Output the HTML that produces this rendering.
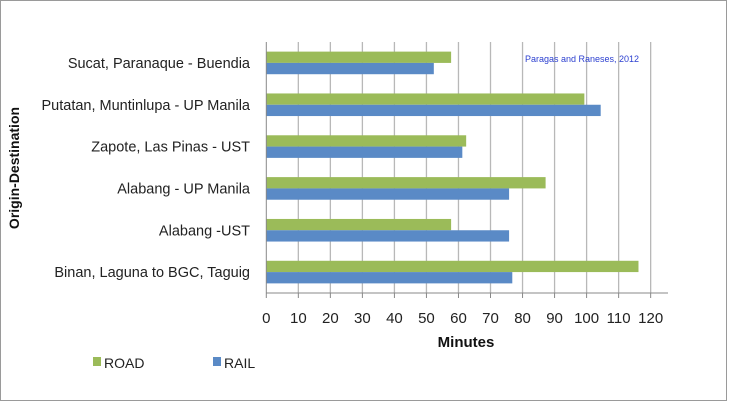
<!DOCTYPE html>
<html><head><meta charset="utf-8"><style>
body{margin:0;background:#fff;font-family:"Liberation Sans",sans-serif}
svg text{font-family:"Liberation Sans",sans-serif}
</style></head><body>
<svg width="730" height="403" viewBox="0 0 730 403">
<rect x="0.5" y="0.5" width="726" height="400" fill="#fff" stroke="#9a9a9a"/>
<g id="grid"></g><g id="bars"></g><g id="axes"></g>
<text x="582" y="62" font-size="9" fill="#2b3fd0" text-anchor="middle">Paragas and Raneses, 2012</text>
<text x="466" y="347" font-size="15" font-weight="bold" fill="#111" text-anchor="middle">Minutes</text>
<text transform="translate(19,168) rotate(-90)" font-size="14" font-weight="bold" fill="#111" text-anchor="middle">Origin-Destination</text>
<g><rect x="93" y="357" width="8" height="9" fill="#9bbb59"/><text x="104" y="368" font-size="14" fill="#222">ROAD</text></g>
<g><rect x="213" y="357" width="8" height="9" fill="#5a8ac6"/><text x="224" y="368" font-size="14" fill="#222">RAIL</text></g>
</svg>
<script>
const categories=["Sucat, Paranaque - Buendia","Putatan, Muntinlupa - UP Manila","Zapote, Las Pinas - UST","Alabang - UP Manila","Alabang -UST","Binan, Laguna to BGC, Taguig"];
const roadValues=[57.7,99.3,62.4,87.2,57.7,116.2];
const railValues=[52.3,104.4,61.2,75.8,75.8,76.8];
const xTicks=[0,10,20,30,40,50,60,70,80,90,100,110,120];
const NS="http://www.w3.org/2000/svg";
const x0=266.3,xs=3.203,plotTop=42,plotBottom=293,band=(plotBottom-plotTop)/categories.length,bh=11.3;
const X=v=>x0+v*xs;
function mk(t,a,p){const e=document.createElementNS(NS,t);for(const k in a)e.setAttribute(k,a[k]);p.appendChild(e);return e;}
const grid=document.getElementById('grid'),bars=document.getElementById('bars'),axes=document.getElementById('axes');
xTicks.forEach(v=>{
  if(v>0){const l=mk('line',{x1:X(v),x2:X(v),y1:plotTop,y2:plotBottom,stroke:'#b8b8b8','stroke-width':1.3},grid);
  
  }
  const tk=mk('line',{x1:X(v),x2:X(v),y1:plotBottom,y2:plotBottom+5,stroke:'#888'},axes);
  
  
  const t=mk('text',{x:X(v),y:323,'font-size':15,fill:'#222','text-anchor':'middle'},axes);
  t.textContent=v;
  
  
});
const ax=mk('line',{x1:x0,x2:668,y1:plotBottom,y2:plotBottom,stroke:'#888'},axes);


const ay=mk('line',{x1:x0,x2:x0,y1:plotTop,y2:plotBottom,stroke:'#888'},axes);


categories.forEach((c,i)=>{
  const yc=plotTop+band*i+band/2;
  const r=mk('rect',{x:x0,y:yc-bh,width:X(roadValues[i])-x0,height:bh,fill:'#9bbb59'},bars);
  
  
  const b=mk('rect',{x:x0,y:yc,width:X(railValues[i])-x0,height:bh,fill:'#5a8ac6'},bars);
  
  
  const t=mk('text',{x:250,y:yc+5,'font-size':14.5,fill:'#222','text-anchor':'end'},axes);
  t.textContent=c;
  
  
});
</script>
</body></html>
